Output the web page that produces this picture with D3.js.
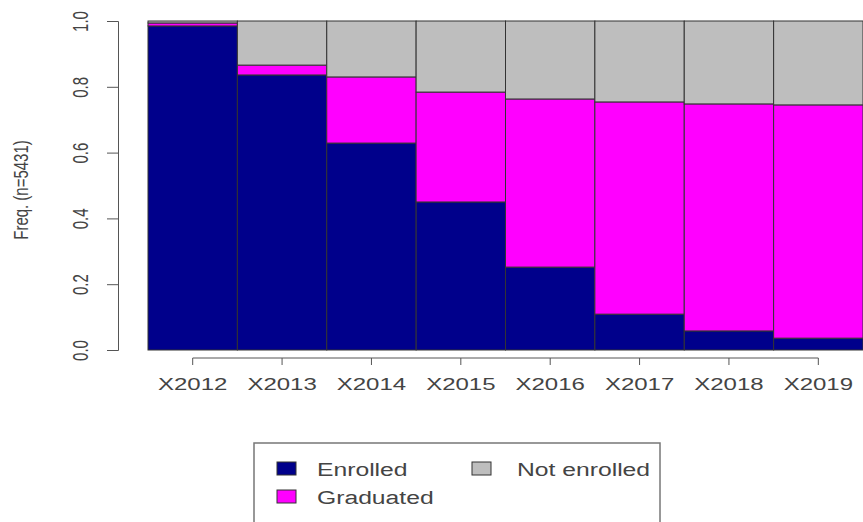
<!DOCTYPE html>
<html>
<head>
<meta charset="utf-8">
<script src="https://cdn.jsdelivr.net/npm/d3@7"></script>
<style>
  body { margin: 0; background: #fff; }
  text { font-family: "Liberation Sans", Arial, sans-serif; }
</style>
</head>
<body>
<div id="chart"></div>
<script>
(function(){

var years = ["X2012", "X2013", "X2014", "X2015", "X2016", "X2017", "X2018", "X2019"];
var enrolled    = [0.985, 0.836, 0.629, 0.450, 0.252, 0.109, 0.058, 0.036];
var graduated   = [0.009, 0.030, 0.201, 0.334, 0.511, 0.645, 0.690, 0.709];
var notEnrolled = [0.006, 0.134, 0.170, 0.216, 0.237, 0.246, 0.252, 0.255];
var yTicks = [0, 0.2, 0.4, 0.6, 0.8, 1.0];

var seriesNames = ["Enrolled", "Graduated", "Not enrolled"];
var colors = ["#00008B", "#FF00FF", "#BEBEBE"];

var width = 863, height = 522;

var svg = d3.select("#chart")
  .append("svg")
    .attr("width", width)
    .attr("height", height);

var x = d3.scaleBand()
    .domain(years)
    .range([148, 863])
    .padding(0);

var y = d3.scaleLinear()
    .domain([0, 1])
    .range([350, 21]);

// stack the three series
var rows = years.map(function(d, i) {
  return { year: d, Enrolled: enrolled[i], Graduated: graduated[i], "Not enrolled": notEnrolled[i] };
});
var stacked = d3.stack().keys(seriesNames)(rows);

svg.selectAll("g.layer")
    .data(stacked)
    .enter()
    .append("g")
      .attr("class", "layer")
      .style("fill", function(d, i) { return colors[i]; })
    .selectAll("rect")
    .data(function(d) { return d; })
    .enter()
    .append("rect")
      .attr("x", function(d) { return x(d.data.year); })
      .attr("y", function(d) { return y(d[1]); })
      .attr("width", x.bandwidth())
      .attr("height", function(d) { return y(d[0]) - y(d[1]); })
      .style("stroke", "#333")
      .style("stroke-width", 1);

// y axis
var yAxis = svg.append("g")
    .attr("transform", "translate(118,0)")
    .call(d3.axisLeft(y).tickValues(yTicks).tickSize(11).tickFormat(d3.format(".1f")));
yAxis.select(".domain").attr("stroke", "#555");
yAxis.selectAll(".tick line").attr("stroke", "#555");
yAxis.selectAll(".tick text")
    .attr("x", 0).attr("y", 0).attr("dy", 0)
    .attr("transform", "translate(-30,0) rotate(-90) scale(1,1.5)")
    .style("text-anchor", "middle")
    .style("font-size", "15px")
    .style("fill", "#444");

svg.append("text")
    .attr("transform", "translate(28,190) rotate(-90) scale(1,1.35)")
    .style("text-anchor", "middle")
    .style("font-size", "15px")
    .style("fill", "#444")
    .text("Freq. (n=5431)");

// x axis
var xAxis = svg.append("g")
    .attr("transform", "translate(0,358)")
    .call(d3.axisBottom(x).tickSize(7).tickSizeOuter(0));
xAxis.select(".domain").remove();
xAxis.append("line")
    .attr("x1", x(years[0]) + x.bandwidth() / 2)
    .attr("x2", x(years[years.length - 1]) + x.bandwidth() / 2)
    .attr("stroke", "#555");
xAxis.selectAll(".tick line").attr("stroke", "#555");
xAxis.selectAll(".tick text")
    .attr("y", 21)
    .attr("transform", "scale(1.5,1)")
    .style("font-size", "16px")
    .style("fill", "#444");

// legend
var legend = svg.append("g");
legend.append("rect")
    .attr("x", 254).attr("y", 443)
    .attr("width", 406).attr("height", 100)
    .style("fill", "none")
    .style("stroke", "#777")
    .style("stroke-width", 1.5);

var legPos = [[277, 462], [277, 490], [472, 462]];
var items = legend.selectAll("g.item")
    .data(seriesNames)
    .enter()
    .append("g")
      .attr("class", "item")
      .attr("transform", function(d, i) { return "translate(" + legPos[i][0] + "," + legPos[i][1] + ")"; });
items.append("rect")
    .attr("width", 19).attr("height", 13)
    .style("fill", function(d, i) { return colors[i]; })
    .style("stroke", "#333");
items.append("text")
    .attr("transform", function(d, i) { return "translate(" + (i === 2 ? 45 : 40) + ",7) scale(1.3,1)"; })
    .attr("dy", "0.35em")
    .style("font-size", "19px")
    .style("fill", "#444")
    .text(function(d) { return d; });

})()
</script>
</body>
</html>
